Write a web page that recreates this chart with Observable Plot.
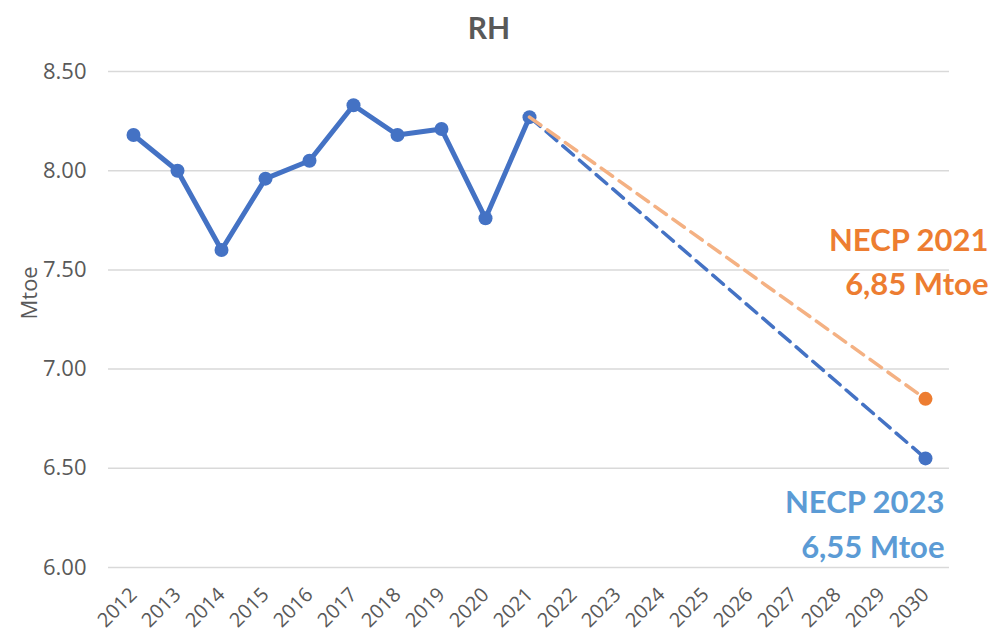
<!DOCTYPE html>
<html><head><meta charset="utf-8">
<script src="https://cdn.jsdelivr.net/npm/d3@7"></script>
<script src="https://cdn.jsdelivr.net/npm/@observablehq/plot@0.6"></script>
<style>body{margin:0;background:#fff;} svg g[aria-label="x-axis tick label"] text{font-size:20px;}</style>
</head><body><div id="chart"></div>
<script>
const years = ["2012","2013","2014","2015","2016","2017","2018","2019","2020","2021","2022","2023","2024","2025","2026","2027","2028","2029","2030"];
const histYears = ["2012","2013","2014","2015","2016","2017","2018","2019","2020","2021"];
const histValues = [8.18, 8.00, 7.60, 7.96, 8.05, 8.33, 8.18, 8.21, 7.76, 8.27];
const necp2021Years = ["2021","2030"];
const necp2021Values = [8.27, 6.85];
const necp2023Years = ["2021","2030"];
const necp2023Values = [8.27, 6.55];
const yTicks = [6.0, 6.5, 7.0, 7.5, 8.0, 8.5];
const titleText = "RH";
const yLabelText = "Mtoe";
const label2021 = "NECP 2021\n6,85 Mtoe";
const label2023 = "NECP 2023\n6,55 Mtoe";

const hist = histYears.map((y, i) => ({year: y, value: histValues[i]}));
const n21 = necp2021Years.map((y, i) => ({year: y, value: necp2021Values[i]}));
const n23 = necp2023Years.map((y, i) => ({year: y, value: necp2023Values[i]}));
const n21End = [n21[n21.length - 1]];
const n23End = [n23[n23.length - 1]];

const chart = Plot.plot({
  width: 999,
  height: 641,
  marginLeft: 108,
  marginRight: 50,
  marginTop: 71,
  marginBottom: 74,
  style: {fontFamily: "'Open Sans', sans-serif", fontSize: "22px", color: "#595959", background: "#fff"},
  x: {type: "point", domain: years, padding: 0.5, tickRotate: -45, tickSize: 0, tickPadding: 24, label: null},
  y: {domain: [6, 8.5], ticks: yTicks, tickFormat: d => d.toFixed(2), tickSize: 0, tickPadding: 22, label: null},
  marks: [
    Plot.ruleY(yTicks, {stroke: "#d9d9d9", strokeWidth: 1.5}),
    Plot.line(n23, {x: "year", y: "value", stroke: "#4472c4", strokeWidth: 3.5, strokeDasharray: "14,8"}),
    Plot.line(hist, {x: "year", y: "value", stroke: "#4472c4", strokeWidth: 5, strokeLinejoin: "round"}),
    Plot.dot(hist, {x: "year", y: "value", r: 7, fill: "#4472c4"}),
    Plot.line(n21, {x: "year", y: "value", stroke: "#f4b183", strokeWidth: 3.5, strokeDasharray: "14,8"}),
    Plot.dot(n21End, {x: "year", y: "value", r: 7, fill: "#ed7d31"}),
    Plot.dot(n23End, {x: "year", y: "value", r: 7, fill: "#4472c4"}),
    Plot.text(n21End, {x: "year", y: "value", text: () => label2021, textAnchor: "end", lineAnchor: "middle", lineHeight: 1.42, dx: 63, dy: -140, fill: "#ed7d31", fontSize: 31, fontWeight: "bold", fontFamily: "Lato, sans-serif"}),
    Plot.text(n23End, {x: "year", y: "value", text: () => label2023, textAnchor: "end", lineAnchor: "middle", lineHeight: 1.45, dx: 19, dy: 63, fill: "#5b9bd5", fontSize: 31, fontWeight: "bold", fontFamily: "Lato, sans-serif"}),
    Plot.text([titleText], {frameAnchor: "top", text: d => d, dx: -40, dy: -42, lineAnchor: "middle", fill: "#595959", fontSize: 30, fontWeight: "bold", fontFamily: "Lato, sans-serif"}),
    Plot.text([yLabelText], {frameAnchor: "left", text: d => d, rotate: -90, dx: -79, lineAnchor: "middle", fill: "#595959", fontSize: 22})
  ]
});
document.getElementById("chart").appendChild(chart);
</script>
</body></html>
